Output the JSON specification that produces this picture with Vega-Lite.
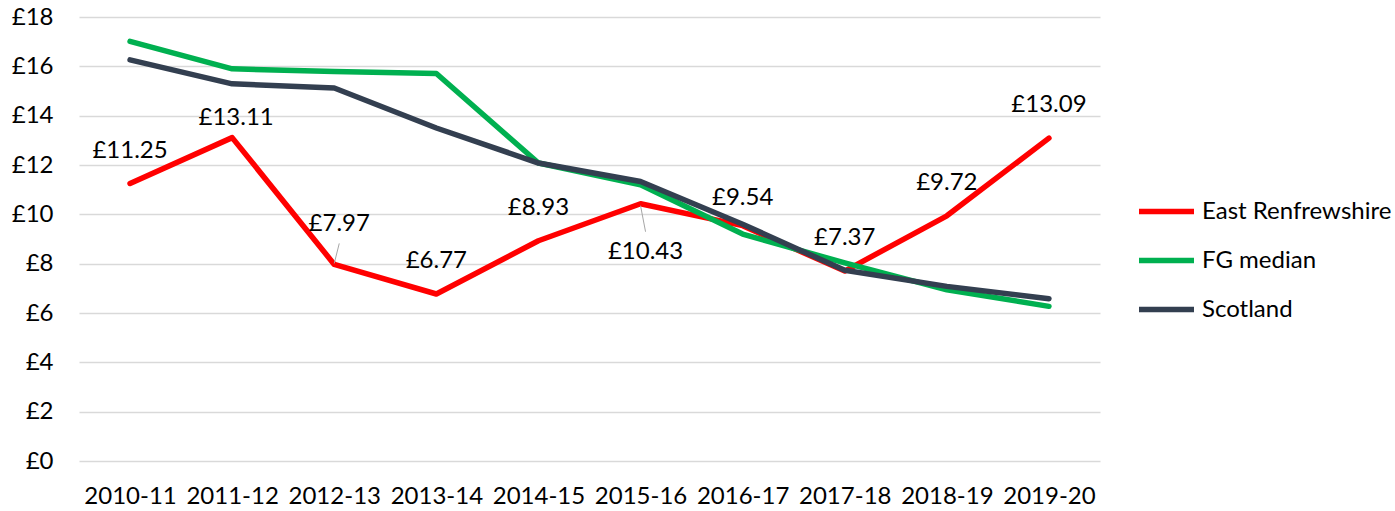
{
  "$schema": "https://vega.github.io/schema/vega-lite/v6.json",
  "autosize": {"type": "none"},
  "padding": {"left": 79, "top": 17, "right": 295, "bottom": 50},
  "width": 1021,
  "height": 444,
  "background": "white",
  "config": {
    "view": {"stroke": null},
    "font": "Lato",
    "axis": {"labelFont": "Lato", "labelFontSize": 24, "labelColor": "#000000"},
    "legend": {"labelFont": "Lato", "labelFontSize": 24, "labelColor": "#000000"}
  },
  "data": {
    "values": [
      {"year": "2010-11", "series": "East Renfrewshire", "value": 11.25, "label": "£11.25"},
      {"year": "2011-12", "series": "East Renfrewshire", "value": 13.11, "label": "£13.11"},
      {"year": "2012-13", "series": "East Renfrewshire", "value": 7.97, "label": "£7.97"},
      {"year": "2013-14", "series": "East Renfrewshire", "value": 6.77, "label": "£6.77"},
      {"year": "2014-15", "series": "East Renfrewshire", "value": 8.93, "label": "£8.93"},
      {"year": "2015-16", "series": "East Renfrewshire", "value": 10.43, "label": "£10.43"},
      {"year": "2016-17", "series": "East Renfrewshire", "value": 9.54, "label": "£9.54"},
      {"year": "2017-18", "series": "East Renfrewshire", "value": 7.7, "label": "£7.37"},
      {"year": "2018-19", "series": "East Renfrewshire", "value": 9.94, "label": "£9.72"},
      {"year": "2019-20", "series": "East Renfrewshire", "value": 13.09, "label": "£13.09"},
      {"year": "2010-11", "series": "FG median", "value": 17.01},
      {"year": "2011-12", "series": "FG median", "value": 15.9},
      {"year": "2012-13", "series": "FG median", "value": 15.79},
      {"year": "2013-14", "series": "FG median", "value": 15.71},
      {"year": "2014-15", "series": "FG median", "value": 12.08},
      {"year": "2015-16", "series": "FG median", "value": 11.2},
      {"year": "2016-17", "series": "FG median", "value": 9.2},
      {"year": "2017-18", "series": "FG median", "value": 8.03},
      {"year": "2018-19", "series": "FG median", "value": 6.94},
      {"year": "2019-20", "series": "FG median", "value": 6.27},
      {"year": "2010-11", "series": "Scotland", "value": 16.26},
      {"year": "2011-12", "series": "Scotland", "value": 15.29},
      {"year": "2012-13", "series": "Scotland", "value": 15.12},
      {"year": "2013-14", "series": "Scotland", "value": 13.5},
      {"year": "2014-15", "series": "Scotland", "value": 12.08},
      {"year": "2015-16", "series": "Scotland", "value": 11.33},
      {"year": "2016-17", "series": "Scotland", "value": 9.6},
      {"year": "2017-18", "series": "Scotland", "value": 7.73},
      {"year": "2018-19", "series": "Scotland", "value": 7.08},
      {"year": "2019-20", "series": "Scotland", "value": 6.58}
    ]
  },
  "encoding": {
    "x": {
      "field": "year", "type": "ordinal",
      "scale": {"type": "point", "padding": 0.5},
      "axis": {"title": null, "labelAngle": 0, "domain": false, "ticks": false, "grid": false, "labelPadding": 23}
    },
    "y": {
      "field": "value", "type": "quantitative",
      "scale": {"domain": [0, 18], "nice": false, "zero": true},
      "axis": {
        "title": null, "values": [0, 2, 4, 6, 8, 10, 12, 14, 16, 18],
        "labelExpr": "'£' + datum.value",
        "domain": false, "ticks": false, "grid": true,
        "gridColor": "#D9D9D9", "gridWidth": 1.3, "labelPadding": 26
      }
    }
  },
  "layer": [
    {
      "mark": {"type": "line", "strokeWidth": 5.5, "strokeCap": "round", "strokeJoin": "round"},
      "encoding": {
        "color": {
          "field": "series", "type": "nominal",
          "scale": {"domain": ["East Renfrewshire", "FG median", "Scotland"], "range": ["#FF0000", "#00B050", "#333F50"]},
          "legend": {
            "title": null, "orient": "none", "legendX": 1057, "legendY": 164,
            "symbolType": "stroke", "symbolStrokeWidth": 5.5, "symbolSize": 3025,
            "labelOffset": 5, "rowPadding": 6, "padding": 0, "labelLimit": 300
          }
        }
      }
    },
    {
      "transform": [{"filter": "datum.year == '2012-13' && datum.series == 'East Renfrewshire'"}],
      "mark": {"type": "rule", "color": "#A6A6A6", "strokeWidth": 1, "yOffset": -1, "y2Offset": -21, "x2Offset": 5},
      "encoding": {"x2": {"field": "year"}, "y2": {"field": "value"}}
    },
    {
      "transform": [{"filter": "datum.year == '2015-16' && datum.series == 'East Renfrewshire'"}],
      "mark": {"type": "rule", "color": "#A6A6A6", "strokeWidth": 1, "yOffset": 2, "y2Offset": 28, "x2Offset": 5},
      "encoding": {"x2": {"field": "year"}, "y2": {"field": "value"}}
    },
    {
      "transform": [{"filter": "datum.series == 'East Renfrewshire' && indexof(['2010-11','2013-14','2014-15','2017-18','2018-19','2019-20'], datum.year) >= 0"}],
      "mark": {"type": "text", "fontSize": 24, "color": "#000000", "dy": -33, "baseline": "middle"},
      "encoding": {"text": {"field": "label"}}
    },
    {
      "transform": [{"filter": "datum.series == 'East Renfrewshire' && datum.year == '2011-12'"}],
      "mark": {"type": "text", "fontSize": 24, "color": "#000000", "dy": -20, "dx": 4, "baseline": "middle"},
      "encoding": {"text": {"field": "label"}}
    },
    {
      "transform": [{"filter": "datum.series == 'East Renfrewshire' && datum.year == '2012-13'"}],
      "mark": {"type": "text", "fontSize": 24, "color": "#000000", "dy": -40, "dx": 5, "baseline": "middle"},
      "encoding": {"text": {"field": "label"}}
    },
    {
      "transform": [{"filter": "datum.series == 'East Renfrewshire' && datum.year == '2015-16'"}],
      "mark": {"type": "text", "fontSize": 24, "color": "#000000", "dy": 48, "dx": 5, "baseline": "middle"},
      "encoding": {"text": {"field": "label"}}
    },
    {
      "transform": [{"filter": "datum.series == 'East Renfrewshire' && datum.year == '2016-17'"}],
      "mark": {"type": "text", "fontSize": 24, "color": "#000000", "dy": -28, "baseline": "middle"},
      "encoding": {"text": {"field": "label"}}
    }
  ]
}
